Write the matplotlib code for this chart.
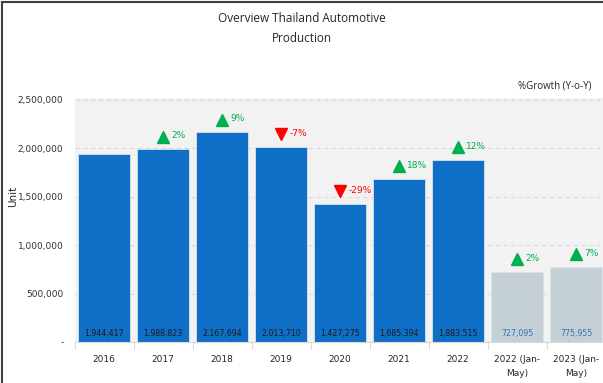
import matplotlib.pyplot as plt
from matplotlib.lines import Line2D
from matplotlib.ticker import FuncFormatter

# Production figures per period
categories = ['2016', '2017', '2018', '2019', '2020', '2021', '2022',
              '2022 (Jan-\nMay)', '2023 (Jan-\nMay)']
units = [1944417, 1988823, 2167694, 2013710, 1427275, 1685394, 1883515,
         727095, 775955]
growth = [None, 2, 9, -7, -29, 18, 12, 2, 7]
partial = [False] * 7 + [True, True]

blue = '#0f6fc6'
grey = '#c5cfd6'
green = '#00b050'
red = '#ff0000'

fig = plt.figure(figsize=(6.03, 3.83), dpi=100)
ax = fig.add_axes([74.5 / 603, 41 / 383, 531 / 603, 244 / 383])
ax.set_facecolor('#f2f2f2')

x = range(len(categories))
colors = [grey if p else blue for p in partial]
bars = ax.bar(x, units, width=0.88, color=colors, edgecolor='#dbe3ea',
              linewidth=0.6, zorder=2)

ax.set_xlim(-0.5, len(categories) - 0.5)
ax.set_ylim(0, 2520000)
ax.set_yticks([0, 500000, 1000000, 1500000, 2000000, 2500000])
ax.yaxis.set_major_formatter(FuncFormatter(
    lambda v, p: '-' if v == 0 else f'{int(v):,}'))
ax.grid(axis='y', color='#d9d9d9', linestyle=(0, (4, 3)), linewidth=0.8, zorder=0)
ax.tick_params(axis='y', length=0, labelsize=6.5, colors='#333333', pad=8)
ax.set_xticks(list(x))
ax.set_xticklabels(categories, fontsize=6.5, color='#262626', linespacing=1.75)
ax.tick_params(axis='x', length=0, pad=9)
# separators between categories
ax.set_xticks([i - 0.5 for i in range(len(categories) + 1)], minor=True)
ax.tick_params(axis='x', which='minor', length=5, color='#d9d9d9', width=0.8)
for s in ['top', 'right', 'left']:
    ax.spines[s].set_visible(False)
ax.spines['bottom'].set_color('#d9d9d9')

fig.text(13 / 603, 1 - 196 / 383, 'Unit', rotation=90, ha='center',
         va='center', fontsize=7.5, color='#262626')

# values inside the bars
for i, (b, v) in enumerate(zip(bars, units)):
    tc = '#2e75b6' if partial[i] else '#1a1a1a'
    ax.text(b.get_x() + b.get_width() / 2, 85000, f'{v:,}', ha='center',
            va='center', fontsize=5.7, color=tc, zorder=3)

# year-on-year growth markers
for i, g in enumerate(growth):
    if g is None:
        continue
    top = units[i]
    if g >= 0:
        mk, c = '^', green
    else:
        mk, c = 'v', red
    ax.plot(i, top + 130000, marker=mk, markersize=9, color=c,
            linestyle='none', zorder=3, clip_on=False)
    ax.text(i + 0.14, top + 140000, f'{g}%', fontsize=6.5, color=c,
            va='center', ha='left', zorder=3)

fig.text(0.5, 1 - 18 / 383, 'Overview Thailand Automotive', ha='center',
         va='center', fontsize=8.5, family='Open Sans', color='#262626')
fig.text(0.5, 1 - 39 / 383, 'Production', ha='center', va='center',
         fontsize=8.5, family='Open Sans', color='#262626')
fig.text(555 / 603, 1 - 86 / 383, '%Growth (Y-o-Y)', ha='center',
         va='center', fontsize=7, family='Open Sans', color='#262626')

# outer frame (left and top edges)
fig.add_artist(Line2D([1.5 / 603, 1.5 / 603], [0, 1 - 1.5 / 383],
                      color='#404040', linewidth=1.5))
fig.add_artist(Line2D([1.5 / 603, 0.999], [1 - 1.5 / 383, 1 - 1.5 / 383],
                      color='#404040', linewidth=1.5))

fig.savefig('out.png', dpi=100)
